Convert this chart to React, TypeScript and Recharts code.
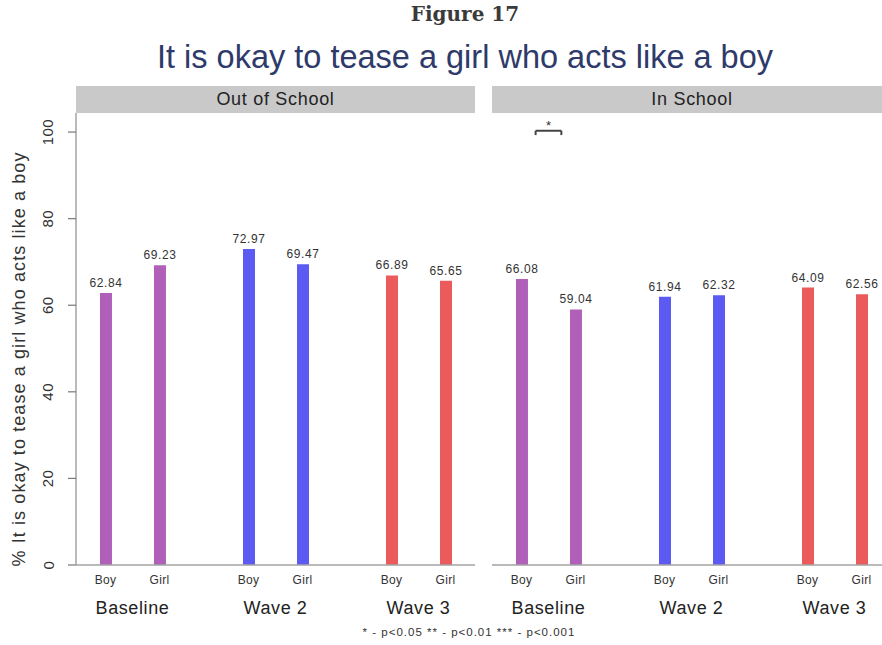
import React from 'react';
import { BarChart, Bar, XAxis, YAxis, Cell, LabelList, ReferenceLine } from 'recharts';

const waves = ['Baseline', 'Wave 2', 'Wave 3'];
const waveIndex = [0, 1, 2];
const genders = ['Boy', 'Girl'];
const outBoy = [62.84, 72.97, 66.89];
const outGirl = [69.23, 69.47, 65.65];
const inBoy = [66.08, 61.94, 64.09];
const inGirl = [59.04, 62.32, 62.56];
const waveColors = ['#b160b9', '#5b5bf4', '#eb5b5b'];
const yTicks = [0, 20, 40, 60, 80, 100];

const FONT = '"Liberation Sans", Arial, Helvetica, sans-serif';
const AXIS_GRAY = '#a3a3a3';

const XTick = (props: any) => {
  const { x, y, payload } = props;
  return (
    <g>
      <text x={x - 27} y={y + 11} textAnchor="middle" fontSize={12} letterSpacing={0.3} fill="#333">{genders[0]}</text>
      <text x={x + 27} y={y + 11} textAnchor="middle" fontSize={12} letterSpacing={0.3} fill="#333">{genders[1]}</text>
      <text x={x} y={y + 41} textAnchor="middle" fontSize={18} letterSpacing={0.6} fill="#222">{waves[payload.value]}</text>
    </g>
  );
};

const YTick = (props: any) => {
  const { y, payload } = props;
  const tx = 48;
  return (
    <text x={tx} y={y} transform={`rotate(-90, ${tx}, ${y})`} textAnchor="middle" dominantBaseline="central" fontSize={15} letterSpacing={0.5} fill="#333">
      {payload.value}
    </text>
  );
};

const fmt = (v: any) => Number(v).toFixed(2);

function Panel({ boy, girl, showY, width, sig }: { boy: number[]; girl: number[]; showY: boolean; width: number; sig?: boolean }) {
  const data = waves.map((w, i) => ({ idx: waveIndex[i], wave: w, boy: boy[i], girl: girl[i] }));
  return (
    <BarChart width={width} height={532} data={data} margin={{ top: 0, right: 5, left: 0, bottom: 0 }} barGap={42} barSize={12}>
      <XAxis
        type="number"
        dataKey="idx"
        domain={[-0.395, 2.395]}
        ticks={waveIndex}
        allowDataOverflow
        interval={0}
        tick={<XTick />}
        tickLine={false}
        tickSize={8}
        tickMargin={0}
        axisLine={{ stroke: AXIS_GRAY, strokeWidth: 1.5 }}
        height={80}
      />
      <YAxis
        hide={!showY}
        width={showY ? 76 : 0}
        domain={[0, 104.4]}
        ticks={yTicks}
        allowDataOverflow
        tickSize={8}
        tick={<YTick />}
        axisLine={{ stroke: AXIS_GRAY, strokeWidth: 1.5 }}
        tickLine={{ stroke: '#777', strokeWidth: 1.2 }}
      />
      {sig && (
        <ReferenceLine
          segment={[{ x: -0.09, y: 100.3 }, { x: 0.09, y: 100.3 }]}
          stroke="#444"
          strokeWidth={2}
          label={{ value: '*', position: 'top', fill: '#333', fontSize: 13, offset: 1 }}
        />
      )}
      {sig && <ReferenceLine segment={[{ x: -0.09, y: 100.3 }, { x: -0.09, y: 99.3 }]} stroke="#444" strokeWidth={2} />}
      {sig && <ReferenceLine segment={[{ x: 0.09, y: 100.3 }, { x: 0.09, y: 99.3 }]} stroke="#444" strokeWidth={2} />}
      <Bar dataKey="boy" isAnimationActive={false}>
        {data.map((d, i) => (
          <Cell key={`b${i}`} fill={waveColors[i]} />
        ))}
        <LabelList dataKey="boy" position="top" offset={6} formatter={fmt} fill="#333" fontSize={12} letterSpacing={0.6} />
      </Bar>
      <Bar dataKey="girl" isAnimationActive={false}>
        {data.map((d, i) => (
          <Cell key={`g${i}`} fill={waveColors[i]} />
        ))}
        <LabelList dataKey="girl" position="top" offset={6} formatter={fmt} fill="#333" fontSize={12} letterSpacing={0.6} />
      </Bar>
    </BarChart>
  );
}

const stripStyle: React.CSSProperties = {
  position: 'absolute',
  top: 86,
  height: 27,
  background: '#c9c9c9',
  color: '#222',
  fontSize: 18,
  letterSpacing: 0.7,
  lineHeight: '27px',
  textAlign: 'center',
};

export default function App() {
  return (
    <div style={{ position: 'absolute', left: 0, top: 0, width: 882, height: 645, overflow: 'hidden', background: '#fff', fontFamily: FONT }}>
      <div style={{ position: 'absolute', left: 0, width: 930, top: 2, textAlign: 'center', fontFamily: '"DejaVu Serif", Georgia, serif', fontWeight: 'bold', fontSize: 20, color: '#3a3a3a' }}>
        Figure 17
      </div>
      <div style={{ position: 'absolute', left: 0, width: 930, top: 39, textAlign: 'center', fontSize: 32.5, color: '#2e3a6a' }}>
        It is okay to tease a girl who acts like a boy
      </div>
      <div style={{ ...stripStyle, left: 76, width: 399 }}>Out of School</div>
      <div style={{ ...stripStyle, left: 492, width: 400 }}>In School</div>
      <svg style={{ position: 'absolute', left: 0, top: 113 }} width={40} height={470}>
        <text x={19} y={246} transform="rotate(-90, 19, 246)" textAnchor="middle" dominantBaseline="central" fontSize={18} letterSpacing={1.1} fill="#333">
          % It is okay to tease a girl who acts like a boy
        </text>
      </svg>
      <div style={{ position: 'absolute', left: 0, top: 113 }}>
        <Panel boy={outBoy} girl={outGirl} showY={true} width={480} />
      </div>
      <div style={{ position: 'absolute', left: 492, top: 113 }}>
        <Panel boy={inBoy} girl={inGirl} showY={false} width={404} sig />
      </div>
      <div style={{ position: 'absolute', left: 0, width: 938, top: 626, textAlign: 'center', fontSize: 11.5, letterSpacing: 1, color: '#333' }}>
        * - p&lt;0.05 ** - p&lt;0.01 *** - p&lt;0.001
      </div>
    </div>
  );
}
